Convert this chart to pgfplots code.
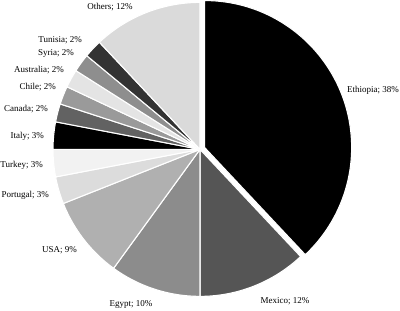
\documentclass[border=0pt]{standalone}
\usepackage{pgfplots}
\pgfplotsset{compat=1.18}
\usepackage{fontspec}
\setmainfont{Liberation Serif}
\definecolor{cEth}{HTML}{000000}
\definecolor{cMex}{HTML}{555555}
\definecolor{cEgy}{HTML}{8C8C8C}
\definecolor{cUSA}{HTML}{B0B0B0}
\definecolor{cPor}{HTML}{DCDCDC}
\definecolor{cTur}{HTML}{F2F2F2}
\definecolor{cIta}{HTML}{000000}
\definecolor{cCan}{HTML}{626262}
\definecolor{cChi}{HTML}{9A9A9A}
\definecolor{cAus}{HTML}{E4E4E4}
\definecolor{cSyr}{HTML}{8E8E8E}
\definecolor{cTun}{HTML}{333333}
\definecolor{cOth}{HTML}{DADADA}
\begin{document}
\begin{tikzpicture}
\def\cx{200}\def\cy{161}\def\R{147}
\begin{axis}[x=1pt,y=1pt,xmin=0,xmax=400,ymin=0,ymax=310,hide axis,clip=false]
\path (rel axis cs:0,0) (rel axis cs:1,1);
\xdef\start{90}
\foreach \v/\c/\e in {38/cEth/5, 12/cMex/0, 10/cEgy/0, 9/cUSA/0, 3/cPor/0, 3/cTur/0, 3/cIta/0, 2/cCan/0, 2/cChi/0, 2/cAus/0, 2/cSyr/0, 2/cTun/0, 12/cOth/0}{
  \pgfmathsetmacro\en{\start-3.6*\v}
  \pgfmathsetmacro\mid{\start-1.8*\v}
  \edef\temp{\noexpand\fill[\c, draw=white, line width=1.1pt, shift={(\mid:\e pt)}] (axis cs:\cx,\cy) -- ++(\start:\R pt) arc[start angle=\start, end angle=\en, radius=\R pt] -- cycle;}
  \temp
  \xdef\start{\en}
}
\begin{scope}[every node/.style={font=\fontsize{9}{10}\selectfont, inner sep=0pt}]
\node[anchor=center] at (axis cs:110,303) {Others; 12\%};
\node[anchor=east] at (axis cs:82,270) {Tunisia; 2\%};
\node[anchor=east] at (axis cs:74,257) {Syria; 2\%};
\node[anchor=east] at (axis cs:64,240) {Australia; 2\%};
\node[anchor=east] at (axis cs:56,223) {Chile; 2\%};
\node[anchor=east] at (axis cs:48,201) {Canada; 2\%};
\node[anchor=east] at (axis cs:44,174) {Italy; 3\%};
\node[anchor=east] at (axis cs:43,145) {Turkey; 3\%};
\node[anchor=east] at (axis cs:49,115) {Portugal; 3\%};
\node[anchor=east] at (axis cs:77,60) {USA; 9\%};
\node[anchor=center] at (axis cs:131,6) {Egypt; 10\%};
\node[anchor=center] at (axis cs:285,9) {Mexico; 12\%};
\node[anchor=west] at (axis cs:347,220) {Ethiopia; 38\%};
\end{scope}
\end{axis}
\end{tikzpicture}
\end{document}
